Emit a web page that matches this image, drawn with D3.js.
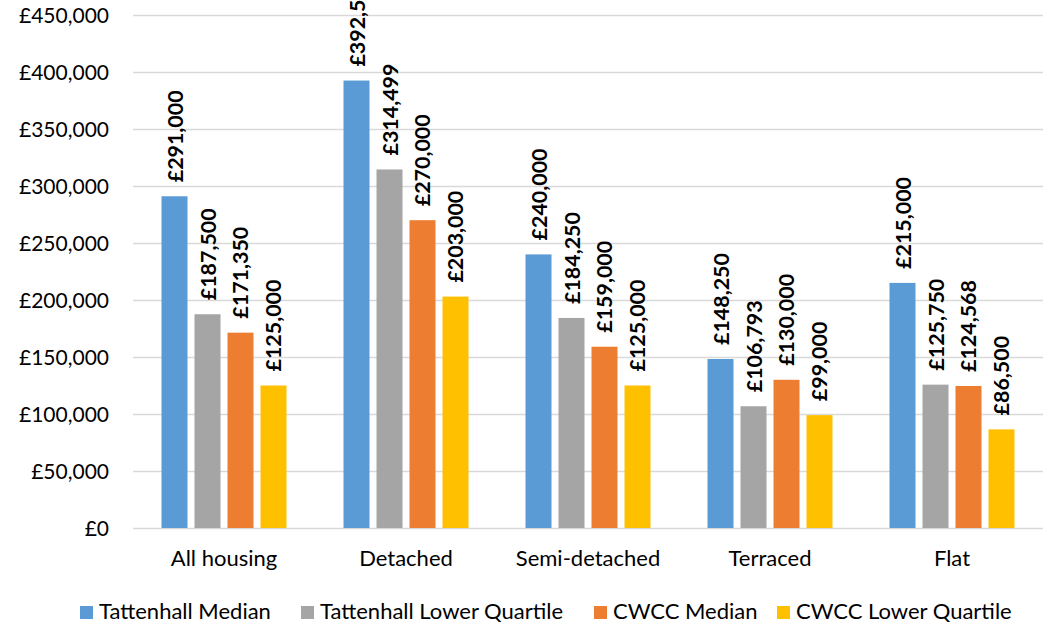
<!DOCTYPE html>
<html>
<head>
<meta charset="utf-8">
<script src="https://cdn.jsdelivr.net/npm/d3@7"></script>
<style>
  html, body { margin: 0; padding: 0; background: #fff; }
  svg { display: block; font-family: Lato, "Open Sans", sans-serif; }
</style>
</head>
<body>
<svg id="chart" width="1050" height="625"></svg>
<script>
// House prices by property type
const categories = ["All housing", "Detached", "Semi-detached", "Terraced", "Flat"];
const seriesNames = ["Tattenhall Median", "Tattenhall Lower Quartile", "CWCC Median", "CWCC Lower Quartile"];
const tattenhallMedian = [291000, 392500, 240000, 148250, 215000];
const tattenhallLowerQuartile = [187500, 314499, 184250, 106793, 125750];
const cwccMedian = [171350, 270000, 159000, 130000, 124568];
const cwccLowerQuartile = [125000, 203000, 125000, 99000, 86500];
const yTicks = [0, 50000, 100000, 150000, 200000, 250000, 300000, 350000, 400000, 450000];
const colors = ["#5B9BD5", "#A5A5A5", "#ED7D31", "#FFC000"];

const seriesValues = [tattenhallMedian, tattenhallLowerQuartile, cwccMedian, cwccLowerQuartile];

const svg = d3.select("#chart");
const plot = { left: 133, right: 1043, top: 15, bottom: 528 };
const groupWidth = 125;

const x = d3.scaleBand().domain(categories).range([plot.left, plot.right]).paddingInner(0).paddingOuter(0);
const xInner = d3.scaleBand().domain(seriesNames).range([0, groupWidth]).paddingInner(0.212).paddingOuter(0);
const y = d3.scaleLinear().domain([0, 450000]).range([plot.bottom, plot.top]);

const fmt = v => "£" + d3.format(",")(v);

// Gridlines
svg.append("g")
  .selectAll("line")
  .data(yTicks)
  .join("line")
  .attr("x1", plot.left)
  .attr("x2", plot.right)
  .attr("y1", d => Math.round(y(d)) + 0.5)
  .attr("y2", d => Math.round(y(d)) + 0.5)
  .attr("stroke", "#D9D9D9")
  .attr("stroke-width", 1.3);

// Y axis labels
const yAxis = d3.axisLeft(y).tickValues(yTicks).tickFormat(fmt).tickSize(0).tickPadding(0);
const yg = svg.append("g").attr("transform", `translate(${109},0)`).call(yAxis);
yg.select(".domain").remove();
yg.selectAll("text")
  .attr("font-family", "Lato, 'Open Sans', sans-serif")
  .attr("font-size", 21)
  .attr("fill", "#000")
  .attr("dy", "0.34em");

// X axis labels
const xAxis = d3.axisBottom(x).tickSize(0).tickPadding(0);
const xg = svg.append("g").attr("transform", `translate(0,${566})`).call(xAxis);
xg.select(".domain").remove();
xg.selectAll("text")
  .attr("font-family", "Lato, 'Open Sans', sans-serif")
  .attr("font-size", 22)
  .attr("fill", "#000")
  .attr("dy", 0);

// Bars with rotated value labels
const groupOffset = (x.bandwidth() - groupWidth) / 2;
const groups = svg.append("g")
  .selectAll("g")
  .data(categories)
  .join("g")
  .attr("transform", d => `translate(${x(d) + groupOffset},0)`);

groups.each(function(cat, ci) {
  const g = d3.select(this);
  const rows = seriesNames.map((s, si) => ({ s, si, v: seriesValues[si][ci] }));
  g.selectAll("rect")
    .data(rows)
    .join("rect")
    .attr("x", d => xInner(d.s))
    .attr("width", xInner.bandwidth())
    .attr("y", d => y(d.v))
    .attr("height", d => y(0) - y(d.v))
    .attr("fill", d => colors[d.si]);

  g.selectAll("text")
    .data(rows)
    .join("text")
    .attr("transform", d => `translate(${xInner(d.s) + xInner.bandwidth() / 2},${y(d.v) - 14}) rotate(-90)`)
    .attr("text-anchor", "start")
    .attr("dominant-baseline", "central")
    .attr("font-weight", "bold")
    .attr("font-size", 21.4)
    .attr("fill", "#000")
    .text(d => fmt(d.v));
});

// Legend
const legendX = [80, 301, 594, 777];
const legend = svg.append("g")
  .selectAll("g")
  .data(seriesNames)
  .join("g")
  .attr("transform", (d, i) => `translate(${legendX[i]},606)`);
legend.append("rect")
  .attr("width", 13)
  .attr("height", 13)
  .attr("fill", (d, i) => colors[i]);
legend.append("text")
  .attr("x", 19)
  .attr("y", 13)
  .attr("font-size", 22)
  .attr("fill", "#000")
  .text(d => d);
</script>
</body>
</html>
